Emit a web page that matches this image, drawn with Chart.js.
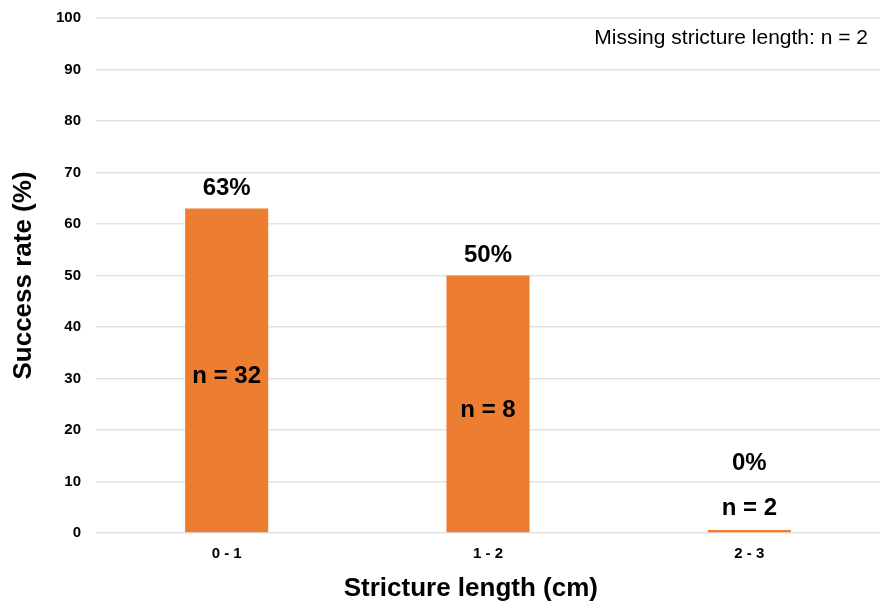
<!DOCTYPE html>
<html lang="en">
<head>
  <meta charset="UTF-8" />
  <title>Success rate by stricture length</title>
  <script src="https://cdn.jsdelivr.net/npm/chart.js"></script>
  <style>
    body {
      margin: 0;
      padding: 0;
      background: #ffffff;
    }
    .wrap {
      width: 880px;
      height: 603px;
    }
  </style>
</head>
<body>
  <div class="wrap">
    <canvas id="successChart" width="880" height="603"></canvas>
  </div>

  <script>
    // chart data
    const categories = ['0 - 1', '1 - 2', '2 - 3'];
    const successRate = [63, 50, 0];
    const patientCounts = [32, 8, 2];
    const yTicks = [0, 10, 20, 30, 40, 50, 60, 70, 80, 90, 100];
    const noteText = 'Missing stricture length: n = 2';
    const xTitle = 'Stricture length (cm)';

    const FONT = "'Liberation Sans', Arial, sans-serif";

    // draws the % labels, the n = labels, the top-right note and the x title
    const barLabels = {
      id: 'barLabels',
      afterDatasetsDraw(chart) {
        const ctx = chart.ctx;
        const meta = chart.getDatasetMeta(0);
        const y = chart.scales.y;
        ctx.save();
        ctx.fillStyle = '#000000';
        ctx.textAlign = 'center';
        ctx.textBaseline = 'middle';
        meta.data.forEach((bar, i) => {
          const base = y.getPixelForValue(0);
          const top = y.getPixelForValue(successRate[i]);
          let pctY, nY;
          if (successRate[i] > 0) {
            pctY = top - 20;
            nY = (top + base) / 2 + 6;
          } else {
            pctY = base - 70;
            nY = base - 25;
          }
          ctx.font = 'bold 24px ' + FONT;
          ctx.fillText(successRate[i] + '%', bar.x, pctY);
          ctx.fillText('n = ' + patientCounts[i], bar.x, nY);
        });
        ctx.font = '21px ' + FONT;
        ctx.textAlign = 'right';
        ctx.fillText(noteText, chart.chartArea.right - 12, y.getPixelForValue(96));

        // x title sits a little left of the plot centre in the original
        ctx.font = 'bold 26px ' + FONT;
        ctx.textAlign = 'center';
        ctx.fillText(xTitle, chart.width * 0.535, chart.chartArea.bottom + 56);
        ctx.restore();
      }
    };

    new Chart(document.getElementById('successChart'), {
      type: 'bar',
      data: {
        labels: categories,
        datasets: [{
          data: successRate,
          backgroundColor: '#ED7D31',
          borderWidth: 0,
          barPercentage: 0.318,
          categoryPercentage: 1,
          minBarLength: 3
        }]
      },
      options: {
        responsive: false,
        animation: false,
        layout: { padding: { top: 18, right: 0, left: 0, bottom: 0 } },
        plugins: {
          legend: { display: false },
          tooltip: { enabled: false }
        },
        scales: {
          x: {
            grid: { display: false },
            border: { display: false },
            ticks: {
              color: '#000000',
              font: { family: FONT, size: 15, weight: 'bold' },
              padding: 4
            },
            afterFit(scale) { scale.height = 70; }
          },
          y: {
            min: 0,
            max: 100,
            afterBuildTicks(scale) {
              scale.ticks = yTicks.map(v => ({ value: v }));
            },
            grid: { color: '#e3e3e3', lineWidth: 1.5, drawTicks: false },
            border: { display: false },
            ticks: {
              color: '#000000',
              font: { family: FONT, size: 15, weight: 'bold' },
              padding: 15
            },
            title: {
              display: true,
              text: 'Success rate (%)',
              color: '#000000',
              font: { family: FONT, size: 26, weight: 'bold' },
              padding: { top: 8, bottom: 0 }
            },
            afterFit(scale) {
              scale.width = 96;
              scale.paddingTop = 0;
              scale.paddingBottom = 0;
            }
          }
        }
      },
      plugins: [barLabels]
    });
  </script>
</body>
</html>
